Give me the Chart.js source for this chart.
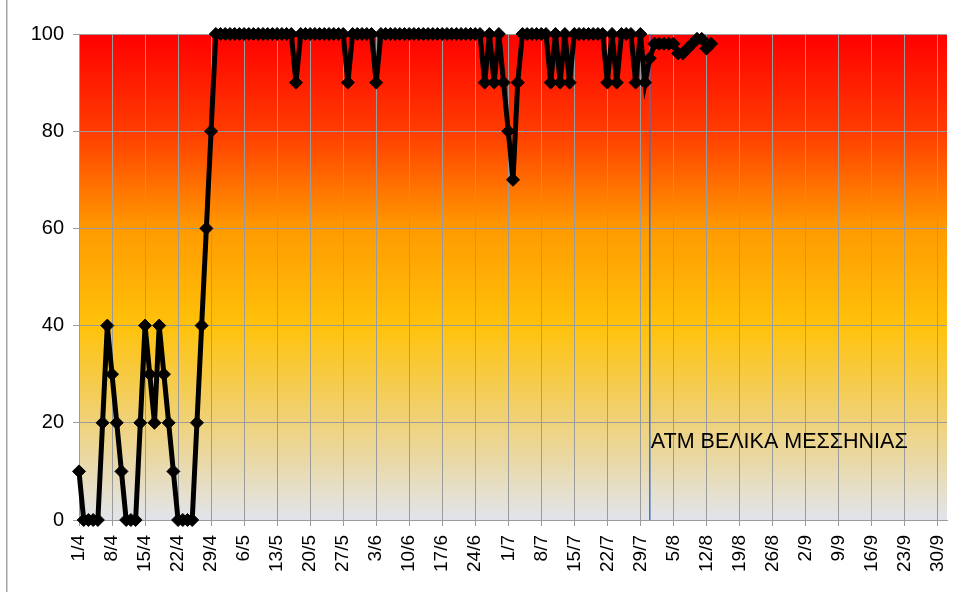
<!DOCTYPE html>
<html><head><meta charset="utf-8">
<script src="https://cdn.jsdelivr.net/npm/chart.js@4/dist/chart.umd.min.js"></script>
<style>html,body{margin:0;padding:0;background:#fff;}#wrap{width:968px;height:592px;}</style>
</head><body><div id="wrap"><canvas id="c" width="968" height="592"></canvas></div>
<script>
// Category axis: every day from 1/4 to 2/10
const categories = [];
for (let i = 0; i < 185; i++) {
  const d = new Date(Date.UTC(2021, 3, 1 + i));
  categories.push(d.getUTCDate() + '/' + (d.getUTCMonth() + 1));
}
const xTickLabels = ['1/4','8/4','15/4','22/4','29/4','6/5','13/5','20/5','27/5','3/6','10/6','17/6','24/6','1/7','8/7','15/7','22/7','29/7','5/8','12/8','19/8','26/8','2/9','9/9','16/9','23/9','30/9'];
const yTicks = [0, 20, 40, 60, 80, 100];
const occupancy = [
  10,0,0,0,0,20,40,30,20,10,0,0,0,20,40,30,20,40,30,20,10,0,0,0,0,20,40,60,80,
  100,100,100,100,100,100,100,100,100,100,100,100,100,100,100,100,100,
  90,
  100,100,100,100,100,100,100,100,100,100,
  90,
  100,100,100,100,100,
  90,
  100,100,100,100,100,100,100,100,100,100,100,100,100,100,100,100,100,100,100,100,100,100,
  90,100,90,100,90,80,70,90,
  100,100,100,100,100,100,
  90,100,90,100,90,
  100,100,100,100,100,100,100,
  90,100,90,
  100,100,100,
  90,100,90,95,98,98,98,98,98,96,96,97,98,99,99,97,98
];
const markerDate = '31/7';
const annotationText = 'ΑΤΜ ΒΕΛΙΚΑ ΜΕΣΣΗΝΙΑΣ';
const FONT = "'Liberation Sans', Arial, sans-serif";

const bgPlugin = {
  id: 'bg',
  beforeDraw(chart) {
    const {ctx, chartArea: a} = chart;
    ctx.save();
    ctx.fillStyle = '#fff';
    ctx.fillRect(0, 0, chart.width, chart.height);
    const g = ctx.createLinearGradient(0, a.top, 0, a.bottom);
    g.addColorStop(0, '#FF0000');
    g.addColorStop(0.2, '#FF3C00');
    g.addColorStop(0.4, '#FF9A00');
    g.addColorStop(0.6, '#FFC20A');
    g.addColorStop(0.8, '#EFD27A');
    g.addColorStop(1, '#E1E4EC');
    ctx.fillStyle = g;
    ctx.fillRect(a.left, a.top, a.right - a.left, a.bottom - a.top);
    ctx.fillStyle = '#a6a6a6';
    ctx.fillRect(6, 0, 1.5, chart.height);
    ctx.restore();
  },
  afterDatasetsDraw(chart) {
    const {ctx} = chart;
    const xs = chart.scales.x, ys = chart.scales.y;
    ctx.save();
    ctx.font = '21.5px ' + FONT;
    ctx.fillStyle = '#000';
    ctx.textBaseline = 'middle';
    ctx.textAlign = 'left';
    ctx.fillText(annotationText, xs.getPixelForValue(categories.indexOf(markerDate)) + 1, ys.getPixelForValue(16));
    ctx.restore();
  }
};

new Chart(document.getElementById('c'), {
  type: 'line',
  data: {
    labels: categories,
    datasets: [
      {
        data: occupancy,
        borderColor: '#000',
        backgroundColor: '#000',
        borderWidth: 5,
        pointStyle: 'rectRot',
        pointRadius: 6.5,
        pointBorderWidth: 1,
        pointBackgroundColor: '#000',
        pointBorderColor: '#000',
        tension: 0,
        clip: false,
        order: 0
      },
      {
        data: [{x: markerDate, y: 0}, {x: markerDate, y: 100}],
        borderColor: '#4472C4',
        borderWidth: 1.5,
        pointRadius: 0,
        order: 1
      }
    ]
  },
  options: {
    responsive: false,
    animation: false,
    events: [],
    layout: {padding: {top: 34, right: 21, left: 0, bottom: 0}},
    plugins: {legend: {display: false}, tooltip: {enabled: false}},
    scales: {
      x: {
        type: 'category',
        offset: false,
        grid: {
          color: (c) => (c.tick && xTickLabels.includes(categories[c.index])) ? '#9b9b9b' : 'rgba(0,0,0,0)',
          lineWidth: 1,
          tickLength: 6
        },
        border: {color: '#9b9b9b', width: 1},
        ticks: {
          autoSkip: false,
          maxRotation: 90,
          minRotation: 90,
          padding: 9,
          color: '#000',
          font: {size: 19, family: FONT},
          callback: function (v) {
            const l = this.getLabelForValue(v);
            return xTickLabels.includes(l) ? l : '';
          }
        },
        afterFit(s) { s.height = 72; s.paddingLeft = 0; s.paddingRight = 0; }
      },
      y: {
        min: 0, max: 100,
        afterBuildTicks(s) { s.ticks = yTicks.map(v => ({value: v})); },
        grid: {color: '#9b9b9b', lineWidth: 1, tickLength: 6},
        border: {color: '#9b9b9b', width: 1},
        ticks: {color: '#000', padding: 9, font: {size: 20, family: FONT}},
        afterFit(s) { s.width = 79; }
      }
    }
  },
  plugins: [bgPlugin]
});
</script>
</body></html>
